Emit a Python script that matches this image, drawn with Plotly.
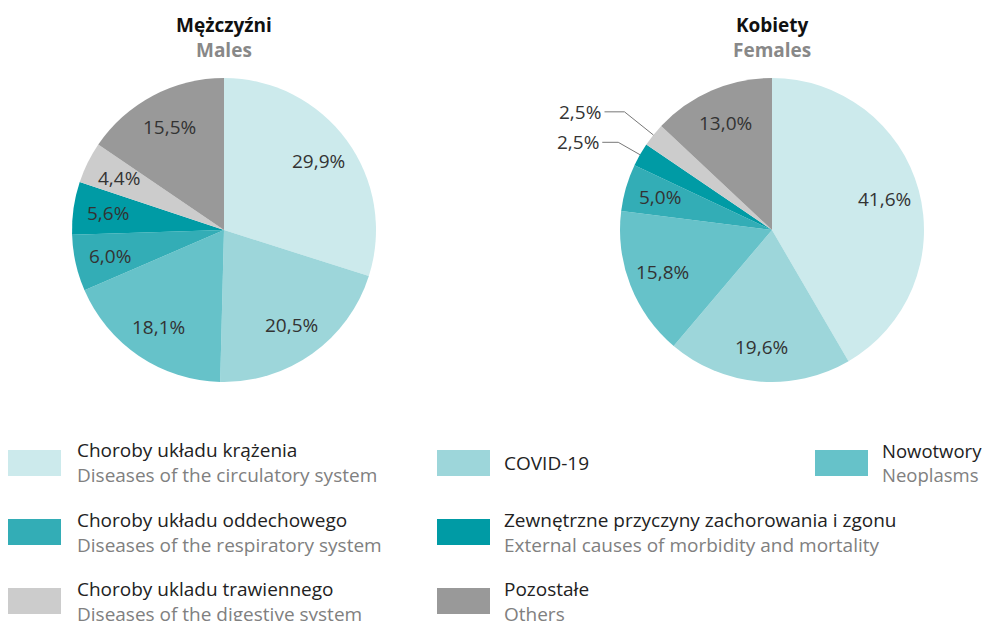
import math
import plotly.graph_objects as go

# categories (Polish / English), in slice order clockwise from 12 o'clock
categories_pl = ["Choroby układu krążenia", "COVID-19", "Nowotwory",
                 "Choroby układu oddechowego", "Zewnętrzne przyczyny zachorowania i zgonu",
                 "Choroby ukladu trawiennego", "Pozostałe"]
categories_en = ["Diseases of the circulatory system", "", "Neoplasms",
                 "Diseases of the respiratory system", "External causes of morbidity and mortality",
                 "Diseases of the digestive system", "Others"]
colors = ["#cceaec", "#9dd6da", "#66c2c9", "#33adb6", "#009ba5", "#cccccc", "#999999"]

males = [29.9, 20.5, 18.1, 6.0, 5.6, 4.4, 15.5]
females = [41.6, 19.6, 15.8, 5.0, 2.5, 2.5, 13.0]

FONT = "Open Sans, sans-serif"
# page body has an 8px margin, so the figure sits at (8, 8) in the window
OFF = 8
W, H = 990 - OFF, 621 - OFF
R = 152  # pie radius in px
CY = 230
PIES = [("Mężczyźni", "Males", males, 224), ("Kobiety", "Females", females, 772)]


def pct(v):
    return f"{v:.1f}".replace(".", ",") + "%"


def px_x(x):
    return (x - OFF) / W


def px_y(y):
    return 1 - (y - OFF) / H


def label(x, y, text, size=19, color="#333333", xanchor="center", align="left"):
    return dict(x=px_x(x), y=px_y(y), xref="paper", yref="paper", showarrow=False,
                xanchor=xanchor, yanchor="middle", align=align, text=text,
                font=dict(family=FONT, size=size, color=color))


def slice_point(cx, values, i, dist):
    # point at distance `dist` from centre along the middle of slice i (clockwise from top)
    cum = sum(values[:i]) + values[i] / 2
    th = 2 * math.pi * cum / sum(values)
    return cx + dist * math.sin(th), CY - dist * math.cos(th), th


fig = go.Figure()
annotations = []
shapes = []

for pl, en, vals, cx in PIES:
    fig.add_trace(go.Pie(
        values=vals, labels=categories_pl, text=[pct(v) for v in vals],
        textinfo="none", sort=False, direction="clockwise", rotation=0,
        marker=dict(colors=colors, line=dict(width=0)),
        domain=dict(x=[px_x(cx - R), px_x(cx + R)], y=[px_y(CY + R), px_y(CY - R)]),
        hoverinfo="label+text", showlegend=False,
    ))
    annotations.append(label(cx, 38, f"<b>{pl}</b><br><span style='color:#888888'><b>{en}</b></span>",
                             size=19, color="#111111", align="center"))

    small = [i for i, v in enumerate(vals) if v < 3]
    for i, v in enumerate(vals):
        if i in small:
            continue
        x, y, _ = slice_point(cx, vals, i, 0.77 * R)
        annotations.append(label(x, y, pct(v), size=19))

    # leader-line labels for the thin slices
    for k, i in enumerate(small):
        ext = [25, 37][k % 2]
        hl = [16, 20][k % 2]
        x0, y0, th = slice_point(cx, vals, i, R)
        x1 = x0 + ext * math.sin(th)
        y1 = y0 - ext * math.cos(th)
        x2 = x1 - hl
        shapes.append(dict(type="path", xref="paper", yref="paper",
                           path=f"M {px_x(x0)},{px_y(y0)} L {px_x(x1)},{px_y(y1)} L {px_x(x2)},{px_y(y1)}",
                           line=dict(color="#777777", width=1)))
        annotations.append(label(x2 - 1, y1, pct(vals[i]), size=19, xanchor="right"))

# legend grid: 3 columns x 3 rows
legend_order = [0, 1, 2, 3, 4, -1, 5, 6, -1]
col_x = [(7, 61, 75), (437, 490, 502), (815, 868, 880)]
col_size = [19, 19, 18.5]
row_y = [463, 532, 601]
for k, idx in enumerate(legend_order):
    if idx < 0:
        continue
    r, c = divmod(k, 3)
    x0, x1, tx = col_x[c]
    yc = row_y[r]
    shapes.append(dict(type="rect", xref="paper", yref="paper",
                       x0=px_x(x0), x1=px_x(x1), y0=px_y(yc + 13), y1=px_y(yc - 13),
                       fillcolor=colors[idx], line=dict(width=0)))
    txt = categories_pl[idx]
    if categories_en[idx]:
        txt += f"<br><span style='color:#808080'>{categories_en[idx]}</span>"
    annotations.append(label(tx, yc, txt, size=col_size[c], color="#222222", xanchor="left"))

fig.update_layout(
    width=W, height=H,
    margin=dict(l=0, r=0, t=0, b=0),
    paper_bgcolor="white", plot_bgcolor="white",
    font=dict(family=FONT),
    annotations=annotations, shapes=shapes,
)

fig.write_html("out.html")
